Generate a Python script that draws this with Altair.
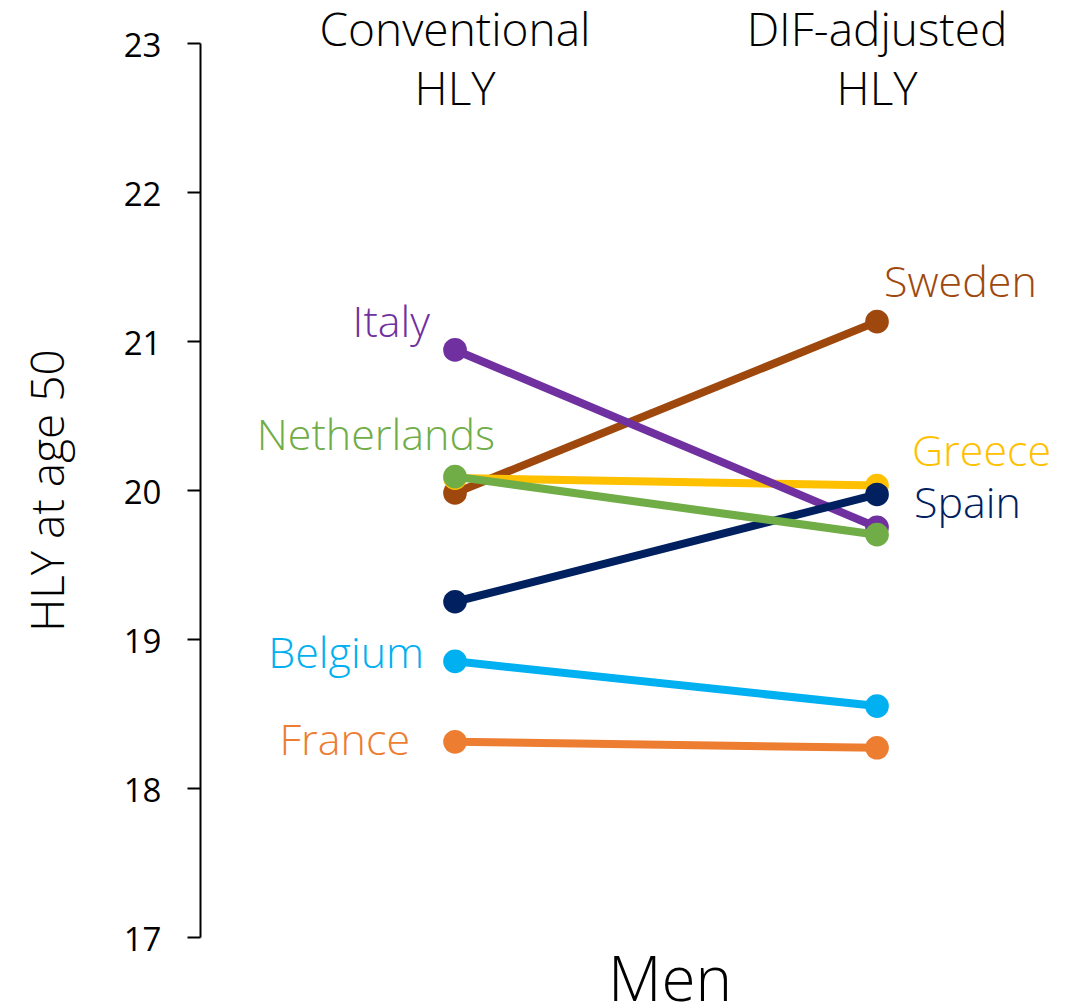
import altair as alt
import pandas as pd

countries = ["Sweden", "Greece", "Italy", "Spain", "Netherlands", "Belgium", "France"]
conventional = [19.98, 20.08, 20.94, 19.25, 20.09, 18.85, 18.31]
dif_adjusted = [21.13, 20.03, 19.75, 19.97, 19.70, 18.55, 18.27]
colors = ["#9E480E", "#FFC000", "#7030A0", "#002060", "#70AD47", "#00B0F0", "#ED7D31"]
header_line1 = ["Conventional", "DIF-adjusted"]
header_line2 = ["HLY", "HLY"]

rows = []
for c, a, b in zip(countries, conventional, dif_adjusted):
    rows.append({"country": c, "pos": 0, "hly": a})
    rows.append({"country": c, "pos": 1, "hly": b})
df = pd.DataFrame(rows)

FONT = "Open Sans"
FW = 300
W, H = 870, 894
xscale = alt.Scale(domain=[-0.6043, 1.4573])
yscale = alt.Scale(domain=[17, 23], nice=False, zero=False)
yaxis = alt.Axis(values=[17, 18, 19, 20, 21, 22, 23], grid=False, domainColor="black",
                 domainWidth=2, tickColor="black", tickWidth=2, tickSize=13,
                 labelFont=FONT, labelFontWeight=400, labelFontSize=33, labelColor="black",
                 labelPadding=26, labelOffset=3,
                 titleFont=FONT, titleFontSize=46,
                 titleFontWeight=FW, titleColor="black", titlePadding=50)

def X():
    return alt.X("pos:Q", scale=xscale, axis=None)

def Y():
    return alt.Y("hly:Q", scale=yscale, axis=yaxis, title="HLY at age 50")

layers = []
for c, col in zip(countries, colors):
    base = alt.Chart(df).transform_filter(alt.datum.country == c)
    line = base.mark_line(color=col, strokeWidth=8).encode(x=X(), y=Y(), order="pos:Q")
    pts = base.mark_point(filled=True, size=560, opacity=1, color=col).encode(x=X(), y=Y())
    layers += [line, pts]

label_specs = {
    "Italy": (0, "right", -25, -26),
    "Netherlands": (0, "right", 40, -40),
    "Belgium": (0, "right", -31, -6),
    "France": (0, "right", -45, 0),
    "Sweden": (1, "left", 7, -38),
    "Greece": (1, "left", 35, -33),
    "Spain": (1, "left", 37, 11),
}
for c, col in zip(countries, colors):
    p, al, dx, dy = label_specs[c]
    lab = alt.Chart(df).transform_filter(
        (alt.datum.country == c) & (alt.datum.pos == p)
    ).mark_text(align=al, baseline="middle", dx=dx, dy=dy, font=FONT, fontWeight=FW,
                fontSize=43, color=col).encode(x=X(), y=Y(), text="country:N")
    layers.append(lab)

hdr = pd.DataFrame({"pos": [0, 1], "line1": header_line1, "line2": header_line2})
h1 = alt.Chart(hdr).mark_text(font=FONT, fontWeight=FW, fontSize=46, color="black",
                              baseline="alphabetic").encode(x=X(), y=alt.value(3), text="line1:N")
h2 = alt.Chart(hdr).mark_text(font=FONT, fontWeight=FW, fontSize=46, color="black",
                              baseline="alphabetic").encode(x=X(), y=alt.value(62), text="line2:N")
men = alt.Chart(pd.DataFrame({"t": ["Men"]})).mark_text(
    font=FONT, fontWeight=FW, fontSize=62, color="black", baseline="alphabetic").encode(
    x=alt.value(470), y=alt.value(958), text="t:N")
layers += [h1, h2, men]

chart = alt.layer(*layers).properties(
    width=W, height=H, autosize="none",
    padding={"left": 192, "top": 35, "right": 0, "bottom": 71},
).configure(background="white", view=alt.ViewConfig(stroke=None))

chart.save("out.html", embed_options={"renderer": "svg", "actions": False})
